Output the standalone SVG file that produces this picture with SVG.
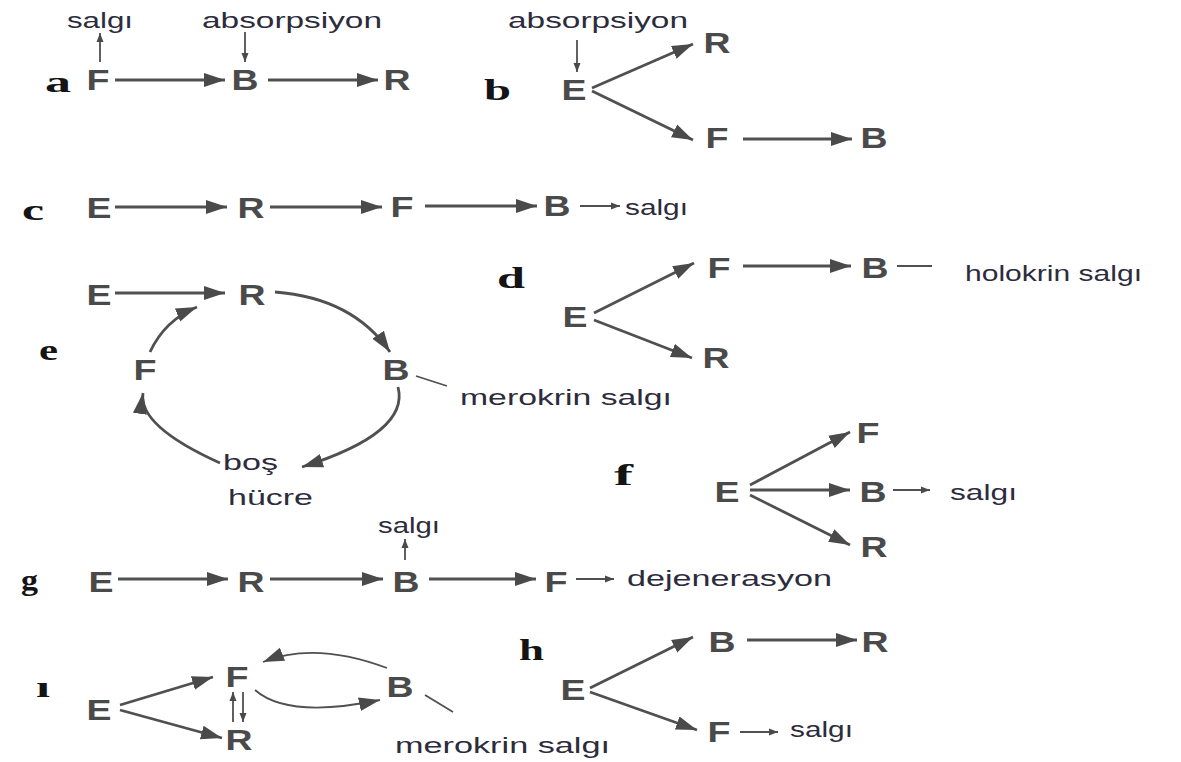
<svg xmlns="http://www.w3.org/2000/svg" width="1181" height="762" viewBox="0 0 1181 762">
  <style>
    .n { font-family: "Liberation Sans", Arial, sans-serif; font-weight: bold; font-size: 29px; fill: #4a4a4a; text-anchor: middle; }
    .t { font-family: "Liberation Sans", Arial, sans-serif; font-size: 22px; fill: #2c2c3c; }
    .l { font-family: "Liberation Serif", "Times New Roman", serif; font-weight: bold; font-size: 29px; fill: #141414; }
    .c { fill: none; stroke: #505050; stroke-width: 2.8; }
    .s { fill: none; stroke: #505050; stroke-width: 1.8; }
    .h { fill: #4a4a4a; }
  </style>
  <defs>
    <marker id="ah" markerUnits="userSpaceOnUse" markerWidth="24" markerHeight="16" refX="21" refY="7.5" orient="auto">
      <path class="h" d="M0,0.5 L21,7.5 L0,14.5 Z"/>
    </marker>
    <marker id="as" markerUnits="userSpaceOnUse" markerWidth="10" markerHeight="8" refX="9" refY="4" orient="auto">
      <path class="h" d="M0,0.5 L9,4 L0,7.5 Z"/>
    </marker>
  </defs>
  <rect width="1181" height="762" fill="#ffffff"/>

  <!-- panel letters -->
  <g id="labels">
    <text class="l" x="45" y="92" textLength="26" lengthAdjust="spacingAndGlyphs">a</text>
    <text class="l" x="484" y="100" textLength="27" lengthAdjust="spacingAndGlyphs">b</text>
    <text class="l" x="22" y="220" textLength="22" lengthAdjust="spacingAndGlyphs">c</text>
    <text class="l" x="497" y="288" textLength="28" lengthAdjust="spacingAndGlyphs">d</text>
    <text class="l" x="39" y="360" textLength="19" lengthAdjust="spacingAndGlyphs">e</text>
    <text class="l" x="614" y="485" textLength="19" lengthAdjust="spacingAndGlyphs">f</text>
    <text class="l" x="21" y="590" textLength="17" lengthAdjust="spacingAndGlyphs">g</text>
    <text class="l" x="36" y="697" textLength="14" lengthAdjust="spacingAndGlyphs">ı</text>
    <text class="l" x="519" y="660" textLength="25" lengthAdjust="spacingAndGlyphs">h</text>
  </g>

  <!-- a: F -> B -> R -->
  <g id="a-nodes">
    <text class="n" x="98" y="90" textLength="23" lengthAdjust="spacingAndGlyphs">F</text>
    <text class="n" x="245" y="90" textLength="27" lengthAdjust="spacingAndGlyphs">B</text>
    <text class="n" x="397" y="90" textLength="27" lengthAdjust="spacingAndGlyphs">R</text>
    <text class="t" x="67" y="28" textLength="66" lengthAdjust="spacingAndGlyphs">salgı</text>
    <text class="t" x="202" y="28" textLength="180" lengthAdjust="spacingAndGlyphs">absorpsiyon</text>
  </g>

  <!-- b: E -> R, E -> F -> B -->
  <g id="b-nodes">
    <text class="n" x="574" y="100" textLength="25" lengthAdjust="spacingAndGlyphs">E</text>
    <text class="n" x="717" y="53" textLength="27" lengthAdjust="spacingAndGlyphs">R</text>
    <text class="n" x="717" y="148" textLength="23" lengthAdjust="spacingAndGlyphs">F</text>
    <text class="n" x="874" y="148" textLength="27" lengthAdjust="spacingAndGlyphs">B</text>
    <text class="t" x="508" y="28" textLength="180" lengthAdjust="spacingAndGlyphs">absorpsiyon</text>
  </g>

  <!-- c: E -> R -> F -> B -> salgı -->
  <g id="c-nodes">
    <text class="n" x="99" y="218" textLength="25" lengthAdjust="spacingAndGlyphs">E</text>
    <text class="n" x="251" y="218" textLength="27" lengthAdjust="spacingAndGlyphs">R</text>
    <text class="n" x="402" y="217" textLength="23" lengthAdjust="spacingAndGlyphs">F</text>
    <text class="n" x="557" y="216" textLength="27" lengthAdjust="spacingAndGlyphs">B</text>
    <text class="t" x="625" y="215" textLength="63" lengthAdjust="spacingAndGlyphs">salgı</text>
  </g>

  <!-- d: E -> F -> B (holokrin), E -> R -->
  <g id="d-nodes">
    <text class="n" x="575" y="327" textLength="25" lengthAdjust="spacingAndGlyphs">E</text>
    <text class="n" x="719" y="278" textLength="23" lengthAdjust="spacingAndGlyphs">F</text>
    <text class="n" x="875" y="278" textLength="27" lengthAdjust="spacingAndGlyphs">B</text>
    <text class="n" x="716" y="368" textLength="27" lengthAdjust="spacingAndGlyphs">R</text>
    <text class="t" x="965" y="281" textLength="177" lengthAdjust="spacingAndGlyphs">holokrin salgı</text>
  </g>

  <!-- e: cycle R -> B -> boş hücre -> F -> R -->
  <g id="e-nodes">
    <text class="n" x="99" y="305" textLength="25" lengthAdjust="spacingAndGlyphs">E</text>
    <text class="n" x="252" y="305" textLength="27" lengthAdjust="spacingAndGlyphs">R</text>
    <text class="n" x="396" y="380" textLength="27" lengthAdjust="spacingAndGlyphs">B</text>
    <text class="n" x="145" y="380" textLength="23" lengthAdjust="spacingAndGlyphs">F</text>
    <text class="t" x="223" y="470" textLength="55" lengthAdjust="spacingAndGlyphs">boş</text>
    <text class="t" x="228" y="505" textLength="85" lengthAdjust="spacingAndGlyphs">hücre</text>
    <text class="t" x="460" y="405" textLength="212" lengthAdjust="spacingAndGlyphs">merokrin salgı</text>
  </g>

  <!-- f: E -> F, E -> B -> salgı, E -> R -->
  <g id="f-nodes">
    <text class="n" x="727" y="502" textLength="25" lengthAdjust="spacingAndGlyphs">E</text>
    <text class="n" x="868" y="443" textLength="23" lengthAdjust="spacingAndGlyphs">F</text>
    <text class="n" x="873" y="502" textLength="27" lengthAdjust="spacingAndGlyphs">B</text>
    <text class="n" x="874" y="557" textLength="27" lengthAdjust="spacingAndGlyphs">R</text>
    <text class="t" x="950" y="500" textLength="67" lengthAdjust="spacingAndGlyphs">salgı</text>
  </g>

  <!-- g: E -> R -> B -> F -> dejenerasyon -->
  <g id="g-nodes">
    <text class="n" x="101" y="592" textLength="25" lengthAdjust="spacingAndGlyphs">E</text>
    <text class="n" x="251" y="592" textLength="27" lengthAdjust="spacingAndGlyphs">R</text>
    <text class="n" x="406" y="592" textLength="27" lengthAdjust="spacingAndGlyphs">B</text>
    <text class="n" x="556" y="592" textLength="23" lengthAdjust="spacingAndGlyphs">F</text>
    <text class="t" x="378" y="533" textLength="62" lengthAdjust="spacingAndGlyphs">salgı</text>
    <text class="t" x="627" y="586" textLength="205" lengthAdjust="spacingAndGlyphs">dejenerasyon</text>
  </g>

  <!-- ı: E -> F, E -> R, F <-> R, F <-> B -->
  <g id="i-nodes">
    <text class="n" x="99" y="720" textLength="25" lengthAdjust="spacingAndGlyphs">E</text>
    <text class="n" x="237" y="687" textLength="23" lengthAdjust="spacingAndGlyphs">F</text>
    <text class="n" x="239" y="750" textLength="27" lengthAdjust="spacingAndGlyphs">R</text>
    <text class="n" x="400" y="697" textLength="27" lengthAdjust="spacingAndGlyphs">B</text>
    <text class="t" x="395" y="753" textLength="215" lengthAdjust="spacingAndGlyphs">merokrin salgı</text>
  </g>

  <!-- h: E -> B -> R, E -> F -> salgı -->
  <g id="h-nodes">
    <text class="n" x="573" y="700" textLength="25" lengthAdjust="spacingAndGlyphs">E</text>
    <text class="n" x="722" y="652" textLength="27" lengthAdjust="spacingAndGlyphs">B</text>
    <text class="n" x="875" y="652" textLength="27" lengthAdjust="spacingAndGlyphs">R</text>
    <text class="n" x="719" y="742" textLength="23" lengthAdjust="spacingAndGlyphs">F</text>
    <text class="t" x="790" y="737" textLength="63" lengthAdjust="spacingAndGlyphs">salgı</text>
  </g>

  <g id="connectors">
    <!-- a -->
    <path class="c" d="M115,80 H225" marker-end="url(#ah)"/>
    <path class="c" d="M268,80 H378" marker-end="url(#ah)"/>
    <path class="s" d="M100,62 V33" marker-end="url(#as)"/>
    <path class="s" d="M245,32 V62" marker-end="url(#as)"/>
    <!-- b -->
    <path class="s" d="M577,40 V72" marker-end="url(#as)"/>
    <path class="c" d="M592,88 L693,44" marker-end="url(#ah)"/>
    <path class="c" d="M592,91 L693,140" marker-end="url(#ah)"/>
    <path class="c" d="M743,139 H852" marker-end="url(#ah)"/>
    <!-- c -->
    <path class="c" d="M115,207 H227" marker-end="url(#ah)"/>
    <path class="c" d="M270,207 H382" marker-end="url(#ah)"/>
    <path class="c" d="M425,206 H537" marker-end="url(#ah)"/>
    <path class="s" d="M580,206 H620" marker-end="url(#as)"/>
    <!-- d -->
    <path class="c" d="M594,313 L694,263" marker-end="url(#ah)"/>
    <path class="c" d="M594,320 L692,358" marker-end="url(#ah)"/>
    <path class="c" d="M743,266 H851" marker-end="url(#ah)"/>
    <path class="s" d="M897,266 H932"/>
    <!-- e -->
    <path class="c" d="M115,293 H225" marker-end="url(#ah)"/>
    <path class="c" d="M275,292 Q353,298 390,352" marker-end="url(#ah)"/>
    <path class="c" d="M398,387 Q410,433 302,467" marker-end="url(#ah)"/>
    <path class="c" d="M220,463 Q138,426 143,393" marker-end="url(#ah)"/>
    <path class="c" d="M150,352 Q165,320 197,307" marker-end="url(#ah)"/>
    <path class="s" d="M416,376 L447,386"/>
    <!-- f -->
    <path class="c" d="M750,485 L850,432" marker-end="url(#ah)"/>
    <path class="c" d="M750,490 H850" marker-end="url(#ah)"/>
    <path class="c" d="M750,495 L850,545" marker-end="url(#ah)"/>
    <path class="s" d="M893,490 H930" marker-end="url(#as)"/>
    <!-- g -->
    <path class="c" d="M118,579 H228" marker-end="url(#ah)"/>
    <path class="c" d="M270,579 H383" marker-end="url(#ah)"/>
    <path class="c" d="M429,579 H536" marker-end="url(#ah)"/>
    <path class="s" d="M576,579 H614" marker-end="url(#as)"/>
    <path class="s" d="M405,560 V539" marker-end="url(#as)"/>
    <!-- ı -->
    <path class="c" d="M120,705 L213,677" marker-end="url(#ah)"/>
    <path class="c" d="M120,710 L222,738" marker-end="url(#ah)"/>
    <path class="s" d="M233,722 V692" marker-end="url(#as)"/>
    <path class="s" d="M243,692 V722" marker-end="url(#as)"/>
    <path class="s" d="M387,668 Q315,641 263,662" marker-end="url(#ah)"/>
    <path class="s" d="M255,690 Q288,719 380,700" marker-end="url(#ah)"/>
    <path class="s" d="M425,695 L453,712"/>
    <!-- h -->
    <path class="c" d="M590,688 L693,637" marker-end="url(#ah)"/>
    <path class="c" d="M590,692 L697,730" marker-end="url(#ah)"/>
    <path class="c" d="M747,640 H857" marker-end="url(#ah)"/>
    <path class="s" d="M740,732 H778" marker-end="url(#as)"/>
  </g>
</svg>
